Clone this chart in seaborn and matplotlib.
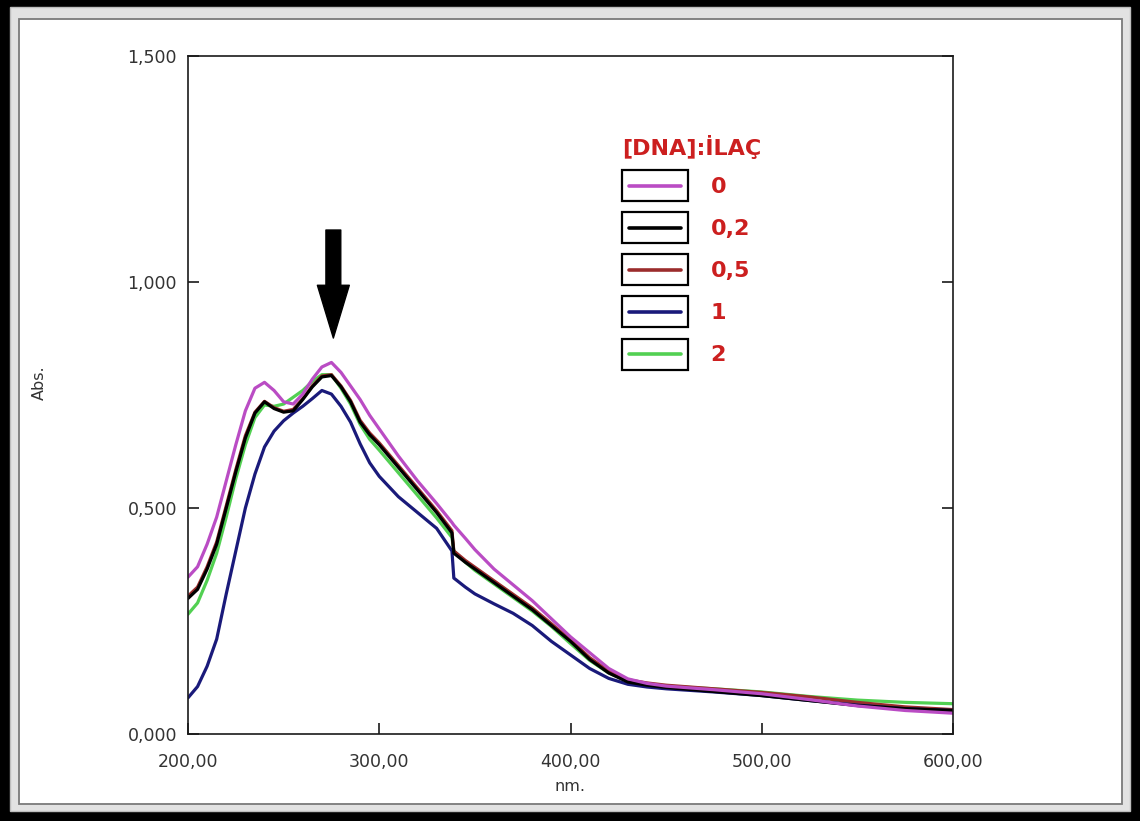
import numpy as np
import pandas as pd
import matplotlib
matplotlib.use("Agg")
import matplotlib.pyplot as plt
import seaborn as sns
from matplotlib.patches import Rectangle
from matplotlib.lines import Line2D
from matplotlib.legend_handler import HandlerBase

# ---------------- data ----------------
wavelength = [200, 205, 210, 215, 220, 225, 230, 235, 240, 245, 250, 255, 260, 265,
              270, 275, 280, 285, 290, 295, 300, 310, 320, 330, 338, 339, 345, 350,
              360, 370, 380, 390, 400, 410, 420, 430, 440, 450, 475, 500, 525, 550,
              575, 600]

abs_r0 = [0.347, 0.370, 0.420, 0.480, 0.560, 0.640, 0.715, 0.765, 0.778, 0.760,
          0.735, 0.730, 0.752, 0.785, 0.812, 0.822, 0.800, 0.770, 0.740, 0.705,
          0.675, 0.615, 0.560, 0.510, 0.468, 0.462, 0.433, 0.408, 0.365, 0.330,
          0.295, 0.255, 0.215, 0.180, 0.145, 0.122, 0.112, 0.106, 0.098, 0.089,
          0.076, 0.062, 0.052, 0.046]

abs_r02 = [0.300, 0.320, 0.365, 0.420, 0.500, 0.580, 0.655, 0.710, 0.735, 0.720,
           0.712, 0.715, 0.740, 0.768, 0.790, 0.793, 0.768, 0.735, 0.690, 0.662,
           0.640, 0.590, 0.540, 0.490, 0.445, 0.400, 0.380, 0.365, 0.335, 0.305,
           0.275, 0.240, 0.205, 0.165, 0.135, 0.115, 0.108, 0.103, 0.094, 0.085,
           0.074, 0.063, 0.056, 0.052]

abs_r05 = [0.305, 0.325, 0.370, 0.425, 0.505, 0.585, 0.660, 0.712, 0.736, 0.722,
           0.714, 0.718, 0.742, 0.770, 0.792, 0.795, 0.770, 0.738, 0.694, 0.666,
           0.644, 0.594, 0.544, 0.494, 0.450, 0.405, 0.384, 0.369, 0.339, 0.309,
           0.279, 0.244, 0.208, 0.169, 0.139, 0.120, 0.113, 0.108, 0.100, 0.092,
           0.082, 0.070, 0.060, 0.054]

abs_r1 = [0.080, 0.105, 0.150, 0.210, 0.310, 0.405, 0.500, 0.575, 0.635, 0.670,
          0.693, 0.710, 0.725, 0.742, 0.760, 0.752, 0.725, 0.690, 0.642, 0.600,
          0.570, 0.525, 0.490, 0.455, 0.405, 0.345, 0.325, 0.310, 0.288, 0.267,
          0.240, 0.205, 0.175, 0.145, 0.123, 0.110, 0.104, 0.100, 0.093, 0.085,
          0.074, 0.064, 0.056, 0.052]

abs_r2 = [0.265, 0.290, 0.340, 0.400, 0.480, 0.565, 0.640, 0.700, 0.728, 0.725,
          0.730, 0.745, 0.760, 0.780, 0.795, 0.795, 0.765, 0.730, 0.685, 0.652,
          0.628, 0.578, 0.528, 0.478, 0.435, 0.405, 0.380, 0.362, 0.332, 0.302,
          0.272, 0.238, 0.200, 0.163, 0.135, 0.117, 0.110, 0.106, 0.100, 0.093,
          0.083, 0.075, 0.070, 0.067]

ratio_labels = ["0", "0,2", "0,5", "1", "2"]
series_colors = ["#BA4CC4", "#000000", "#9B2C2C", "#1A1A7A", "#52D052"]
draw_order = ["2", "0,5", "1", "0,2", "0"]

x_ticks = [200, 300, 400, 500, 600]
x_tick_labels = ["200,00", "300,00", "400,00", "500,00", "600,00"]
y_ticks = [0.0, 0.5, 1.0, 1.5]
y_tick_labels = ["0,000", "0,500", "1,000", "1,500"]

legend_title = "[DNA]:İLAÇ"
x_label = "nm."
y_label = "Abs."

series = {"0": abs_r0, "0,2": abs_r02, "0,5": abs_r05, "1": abs_r1, "2": abs_r2}
frames = [pd.DataFrame({"nm": wavelength, "abs": vals, "ratio": lab})
          for lab, vals in series.items()]
df = pd.concat(frames, ignore_index=True)
palette = dict(zip(ratio_labels, series_colors))

# ---------------- style ----------------
sns.set_style("white")
plt.rcParams["font.family"] = ["DejaVu Sans"]

W, H = 1140, 821
fig = plt.figure(figsize=(W / 100, H / 100), dpi=100, facecolor="black")

# window-like frame
fig.add_artist(Rectangle((10 / W, 10 / H), 1120 / W, 804 / H, transform=fig.transFigure,
                         facecolor="#e2e2e2", edgecolor="#bdbdbd", lw=1.0, zorder=-10))
fig.add_artist(Rectangle((19 / W, 17 / H), 1103 / W, 785 / H, transform=fig.transFigure,
                         facecolor="white", edgecolor="#7a7a7a", lw=1.3, zorder=-9))

ax = fig.add_axes([188 / W, 87 / H, 765 / W, 678 / H])
ax.set_facecolor("white")

for lab in draw_order:
    sub = df[df["ratio"] == lab]
    sns.lineplot(data=sub, x="nm", y="abs", color=palette[lab], linewidth=2.3,
                 errorbar=None, legend=False, ax=ax)

ax.set_xlim(200, 600)
ax.set_ylim(0, 1.5)
ax.set_xticks(x_ticks)
ax.set_xticklabels(x_tick_labels)
ax.set_yticks(y_ticks)
ax.set_yticklabels(y_tick_labels)

for side in ["left", "right", "top", "bottom"]:
    ax.spines[side].set_visible(True)
    ax.spines[side].set_color("#1a1a1a")
    ax.spines[side].set_linewidth(1.2)

ax.tick_params(axis="both", direction="in", length=8, width=1.2, color="#1a1a1a",
               labelsize=12.5, labelcolor="#333333")
ax.tick_params(axis="y", right=True, left=True, pad=8)
ax.tick_params(axis="x", top=False, bottom=True, pad=14)

ax.set_xlabel(x_label, fontsize=11.5, color="#333333")
ax.set_ylabel(y_label, fontsize=11.5, color="#333333")
ax.xaxis.set_label_coords(0.499, -0.067)
ax.yaxis.set_label_coords(-0.184, 0.518)

# arrow pointing at the main peak of the first series
arr0 = np.array(abs_r0)
i_peak = int(np.argmax(arr0))
x_peak = wavelength[i_peak] + 1
y_peak = arr0[i_peak]
ax.annotate("", xy=(x_peak, y_peak + 0.054), xytext=(x_peak, y_peak + 0.293),
            arrowprops=dict(arrowstyle="simple,head_length=3.8,head_width=2.3,tail_width=1.07",
                            color="black", shrinkA=0, shrinkB=0, mutation_scale=10))


# legend: each line sample sits in its own box
class BoxedLine(HandlerBase):
    def create_artists(self, legend, orig_handle, xdescent, ydescent, width, height,
                       fontsize, trans):
        x0, y0 = -xdescent, -ydescent
        rect = Rectangle((x0, y0), width, height, fill=False, edgecolor="black",
                         lw=1.6, transform=trans)
        m = 0.11 * width
        ln = Line2D([x0 + m, x0 + width - m], [y0 + height / 2] * 2,
                    color=orig_handle.get_color(), lw=orig_handle.get_linewidth(),
                    transform=trans)
        return [rect, ln]


handles = [Line2D([], [], color=palette[lab], lw=2.6) for lab in ratio_labels]
leg = ax.legend(handles, ratio_labels, title=legend_title, loc="upper left",
                bbox_to_anchor=(0.553, 0.900), frameon=False, borderpad=0,
                handler_map={Line2D: BoxedLine()}, handlelength=2.97, handleheight=1.77,
                labelspacing=0.5, handletextpad=1.0, alignment="left",
                prop={"weight": "bold", "size": 16},
                title_fontproperties={"weight": "bold", "size": 16})
for t in leg.get_texts():
    t.set_color("#CC1F1F")
leg.get_title().set_color("#CC1F1F")

fig.savefig("out.png", dpi=100, facecolor=fig.get_facecolor())
